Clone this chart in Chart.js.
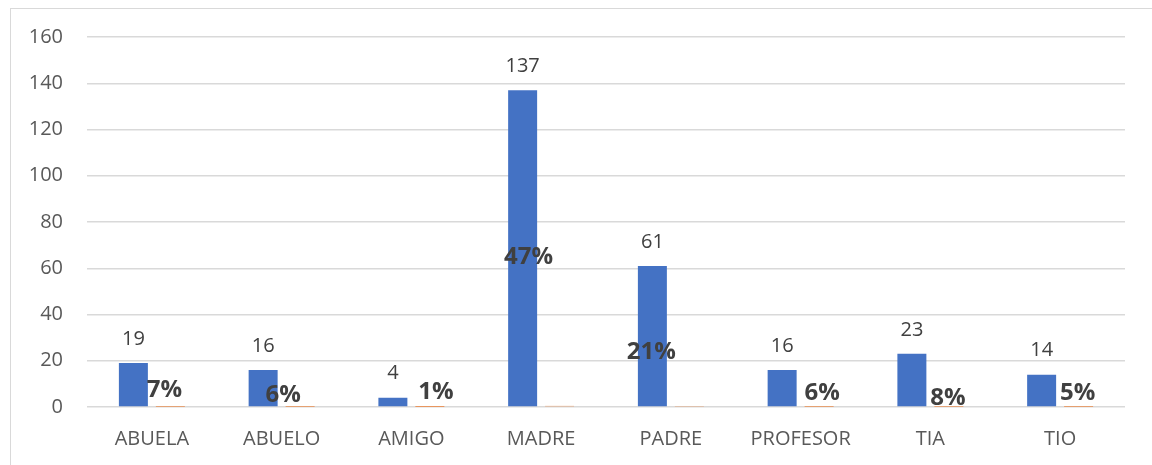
<!DOCTYPE html>
<html>
<head>
<meta charset="utf-8">
<script src="https://cdn.jsdelivr.net/npm/chart.js@4/dist/chart.umd.min.js"></script>
<style>
    html, body
    {
        margin: 0;
        padding: 0;
        width: 1152px;
        height: 465px;
        overflow: hidden;
        background: #ffffff;
    }

    #frame
    {
        position: absolute;
        left: 10px;
        top: 8px;
        width: 1170px;
        height: 480px;
        border: 1px solid #d9d9d9;
    }

    #chart
    {
        position: absolute;
        left: 0;
        top: 0;
    }
</style>
</head>
<body>
<div id="frame"></div>
<canvas id="chart" width="1152" height="465"></canvas>
<script>
const categories = ['ABUELA', 'ABUELO', 'AMIGO', 'MADRE', 'PADRE', 'PROFESOR', 'TIA', 'TIO'];
const counts = [19, 16, 4, 137, 61, 16, 23, 14];
const shares = [0.07, 0.06, 0.01, 0.47, 0.21, 0.06, 0.08, 0.05];
const yTicks = [0, 20, 40, 60, 80, 100, 120, 140, 160];

// labels in the original were dragged by hand, these are pixel nudges
const shareLabelNudge = [[-6, -3], [-17, 2], [6, -1], [-31, -135], [-38, -40], [3, 0], [-1, 5], [-1, 0]];

const barLabels =
{
    id: 'barLabels',
    afterDatasetsDraw(chart)
    {
        const ctx = chart.ctx;
        ctx.save();
        ctx.textAlign = 'center';
        ctx.textBaseline = 'middle';

        const countBars = chart.getDatasetMeta(0).data;
        ctx.font = '20px "Open Sans"';
        ctx.fillStyle = '#404040';
        countBars.forEach((bar, i) =>
        {
            ctx.fillText(String(counts[i]), bar.x, bar.y - 24);
        });

        const shareBars = chart.getDatasetMeta(1).data;
        ctx.font = 'bold 24px "Open Sans"';
        ctx.fillStyle = '#404040';
        shareBars.forEach((bar, i) =>
        {
            const n = shareLabelNudge[i];
            ctx.fillText(Math.round(shares[i] * 100) + '%', bar.x + n[0], bar.y - 14 + n[1]);
        });

        ctx.restore();
    }
};

new Chart(
    document.getElementById('chart'),
    {
        type: 'bar',
        data:
        {
            labels: categories,
            datasets:
            [
                {
                    label: 'Cantidad',
                    data: counts,
                    backgroundColor: '#4472c4',
                    borderWidth: 0,
                    categoryPercentage: 0.57,
                    barPercentage: 0.784
                },
                {
                    label: 'Porcentaje',
                    data: shares,
                    backgroundColor: '#ed7d31',
                    borderWidth: 0,
                    categoryPercentage: 0.57,
                    barPercentage: 0.784
                }
            ]
        },
        options:
        {
            responsive: false,
            animation: false,
            layout: { padding: { left: 0, right: 27, top: 37, bottom: 0 } },
            plugins:
            {
                legend: { display: false },
                tooltip: { enabled: false }
            },
            scales:
            {
                x:
                {
                    grid: { display: false, drawTicks: false },
                    border: { display: false },
                    ticks:
                    {
                        color: '#595959',
                        font: { family: 'Open Sans', size: 20 },
                        padding: 20,
                        maxRotation: 0
                    },
                    afterFit(scale) { scale.height = 58; }
                },
                y:
                {
                    min: 0,
                    max: 160,
                    afterBuildTicks(scale) { scale.ticks = yTicks.map(v => ({ value: v })); },
                    grid: { color: '#d9d9d9', lineWidth: 1.5, drawTicks: false },
                    border: { display: false },
                    ticks:
                    {
                        color: '#595959',
                        font: { family: 'Open Sans', size: 20 },
                        padding: 24
                    },
                    afterFit(scale) { scale.width = 87; }
                }
            }
        },
        plugins: [barLabels]
    }
);
</script>
</body>
</html>
